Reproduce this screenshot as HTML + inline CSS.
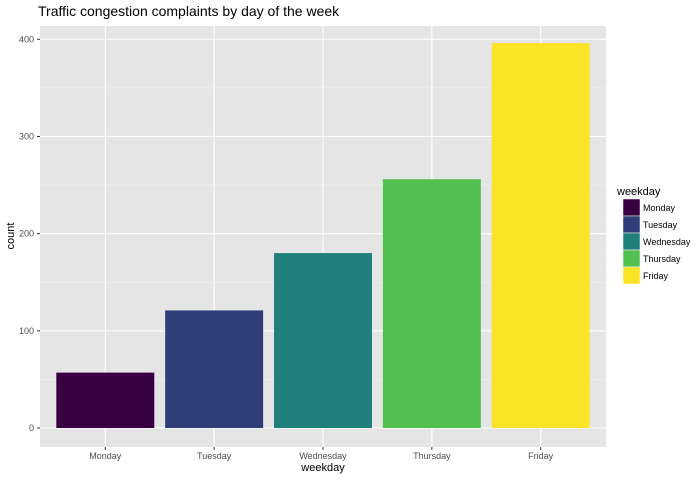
<!DOCTYPE html>
<html><head><meta charset="utf-8"><style>
body{margin:0;background:#fff;font-family:"Liberation Sans",sans-serif}
svg text{font-family:"Liberation Sans",sans-serif}
</style></head><body>
<svg id="c" width="700" height="480">
<text x="38" y="16" font-size="14" fill="#000">Traffic congestion complaints by day of the week</text>
<rect x="40" y="26" width="566" height="421" fill="#e5e5e5"/>
<g id="grid"></g><g id="bars"></g><g id="axes"></g>
<text x="323" y="471" font-size="11" text-anchor="middle">weekday</text>
<text transform="translate(14,236) rotate(-90)" font-size="11" text-anchor="middle">count</text>
<g id="legend">
<text x="617" y="195" font-size="11">weekday</text>
</g>
</svg>
<script>
const categories=["Monday","Tuesday","Wednesday","Thursday","Friday"];
const counts=[57,121,180,256,396];
const colors=["#380040","#2e3e78","#1f7f7a","#52c051","#fbe326"];
const yTicks=[0,100,200,300,400];
const ns="http://www.w3.org/2000/svg";
const L=40,R=606,T=26,B=447;
const y0=428,y400=39.3;
function y(v){return y0-(y0-y400)*v/400;}
const step=(R-L)/5.2;
function x(i){return L+step*(0.6+i);}
function mk(t,a,p){const e=document.createElementNS(ns,t);for(const k in a)e.setAttribute(k,a[k]);p.appendChild(e);return e;}
const g=document.getElementById('grid'),bg=document.getElementById('bars'),ax=document.getElementById('axes'),lg=document.getElementById('legend');
for(let k=0;k<yTicks.length;k++){
 const v=yTicks[k];
 const l=mk('line',{x1:L,x2:R,y1:y(v),y2:y(v),stroke:'#fff','stroke-width':1.1},g);
 
 
 if(k<yTicks.length-1){const m=mk('line',{x1:L,x2:R,y1:y(v+50),y2:y(v+50),stroke:'#f2f2f2','stroke-width':0.6},g);
 
 }
 mk('line',{x1:37,x2:40,y1:y(v),y2:y(v),stroke:'#333'},ax);
 const t=mk('text',{x:34,y:y(v)+3,'font-size':9,'text-anchor':'end',fill:'#4d4d4d'},ax);t.textContent=v;
 
 
}
categories.forEach((c,i)=>{
 const l=mk('line',{x1:x(i),x2:x(i),y1:T,y2:B,stroke:'#fff','stroke-width':1.1},g);
 
 
 const w=step*0.9;
 const r=mk('rect',{x:x(i)-w/2,y:y(counts[i]),width:w,height:y(0)-y(counts[i]),fill:colors[i]},bg);
 
 
 mk('line',{x1:x(i),x2:x(i),y1:B,y2:B+3,stroke:'#333'},ax);
 const t=mk('text',{x:x(i),y:B+12,'font-size':9,'text-anchor':'middle',fill:'#4d4d4d'},ax);t.textContent=c;
 
 
 const k=mk('rect',{x:623,y:199+i*17,width:17,height:17,fill:colors[i],stroke:'#fff','stroke-width':0.5},lg);
 
 
 const lt=mk('text',{x:643,y:211+i*17,'font-size':9},lg);lt.textContent=c;
 
 
});
</script>
</body></html>
